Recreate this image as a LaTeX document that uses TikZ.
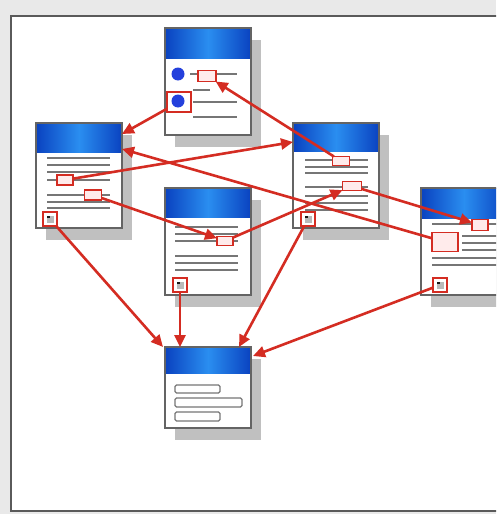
\documentclass[tikz,border=0pt]{standalone}
\usetikzlibrary{arrows.meta,calc}
\definecolor{linkred}{HTML}{D42C22}
\definecolor{hdrdark}{HTML}{0A42C0}
\definecolor{hdrlight}{HTML}{2A8EF0}
\definecolor{bggray}{HTML}{E9E9E9}
\definecolor{framegray}{HTML}{5A5A5A}
\definecolor{shadowgray}{HTML}{C0C0C0}
\definecolor{textgray}{HTML}{767676}
\definecolor{dotblue}{HTML}{2440DC}

\tikzset{
  x=1pt, y=-1pt,
  pagebody/.style={fill=white, inner sep=0pt, outer sep=0pt,
    minimum width=86pt, anchor=north west},
  pageedge/.style={draw=textgray!85!black, line width=1.1pt},
  header/.style={left color=hdrdark, right color=hdrdark, middle color=hdrlight},
  txt/.style={draw=textgray, line width=1.4pt},
  hl/.style={draw=linkred, line width=1.8pt, fill=red!8, inner sep=0pt, outer sep=0pt},
  icon/.style={draw=linkred, line width=1.8pt, fill=white, minimum size=14pt,
    inner sep=0pt, outer sep=0pt,
    path picture={
      \fill[gray!55] ([shift={(-3.5pt,-3.5pt)}]path picture bounding box.center) rectangle ++(7pt,7pt);
      \fill[gray!20!black] ([shift={(-3.5pt,1pt)}]path picture bounding box.center) rectangle ++(3pt,2.5pt);
    }},
  field/.style={draw=textgray, line width=1.1pt, fill=white, rounded corners=1.5pt},
  link/.style={draw=linkred, line width=2.6pt, -{Triangle[length=12pt,width=11pt]}},
}

% name, x, y, height, header height
\newcommand\docpage[5]{%
  \fill[shadowgray] (#2+10,#3+12) rectangle ++(86,#4);
  \node[pagebody, minimum height=#4pt] (#1) at (#2,#3) {};
  \shade[header] (#1.north west) rectangle ([yshift=-#5pt]#1.north east);
  \draw[pageedge] (#1.north west) rectangle (#1.south east);
}
\newcommand\tline[3]{\draw[txt] (#1,#3) -- (#2,#3);}

\begin{document}
\begin{tikzpicture}
  \clip (0,0) rectangle (496,514);
  \fill[bggray] (0,0) rectangle (496,514);
  \draw[framegray, line width=2.5pt, fill=white] (11,16) rectangle (540,511);

  % documents
  \docpage{p1}{165}{28}{107}{30}
  \docpage{p2}{36}{123}{105}{29}
  \docpage{p3}{293}{123}{105}{28}
  \docpage{p4}{165}{188}{107}{29}
  \docpage{p5}{421}{188}{107}{30}
  \docpage{p6}{165}{347}{81}{26}

  % top document: list with bullets
  \tline{190}{237}{74}
  \tline{193}{210}{90}
  \tline{193}{237}{102}
  \tline{193}{237}{117}
  \fill[dotblue] (178,74) circle (6.5pt);
  \node[hl, minimum width=18pt, minimum height=11pt] (b1) at (207,76) {};
  \node[hl, fill=white, minimum width=24pt, minimum height=20pt] (b1c) at (179,102) {};
  \fill[dotblue] (178,101) circle (6.5pt);

  % left document
  \foreach \yy in {158,165,172,180,195,202,208} {\tline{47}{110}{\yy}}
  \node[hl, minimum width=16pt, minimum height=10pt] (b2a) at (65,180) {};
  \node[hl, minimum width=17pt, minimum height=10pt] (b2b) at (93,195) {};
  \node[icon] (i2) at (50,219) {};

  % right document
  \foreach \yy in {160,167,173,187,196,203,210} {\tline{305}{368}{\yy}}
  \node[hl, minimum width=17pt, minimum height=9pt] (b3a) at (341,161) {};
  \node[hl, minimum width=19pt, minimum height=9pt] (b3b) at (352,186) {};
  \node[icon] (i3) at (308,219) {};

  % middle document
  \foreach \yy in {227,234,241,256,263,270} {\tline{175}{238}{\yy}}
  \node[hl, minimum width=16pt, minimum height=9pt] (b4) at (225,241) {};
  \node[icon] (i4) at (180,285) {};

  % far right document
  \tline{432}{500}{224}
  \foreach \yy in {236,243,250} {\tline{462}{500}{\yy}}
  \tline{432}{500}{258}
  \tline{432}{500}{265}
  \node[hl, minimum width=16pt, minimum height=11pt] (b5a) at (480,225) {};
  \node[hl, minimum width=26pt, minimum height=19pt] (b5b) at (445,242) {};
  \node[icon] (i5) at (440,285) {};

  % bottom document: form fields
  \draw[field] (175,385) rectangle (220,393);
  \draw[field] (175,398) rectangle (242,407);
  \draw[field] (175,412) rectangle (220,421);

  % links
  \draw[link] (b3a) -- (b1);
  \draw[link] (b1c) -- ([yshift=-11pt]p2.north east);
  \draw[link] (b2a) -- ([yshift=-19pt]p3.north west);
  \draw[link] (b5b) -- ([yshift=-26pt]p2.north east);
  \draw[link] (b2b) -- (b4);
  \draw[link] (b4) -- (b3b);
  \draw[link] (b3b) -- (b5a);
  \draw[link] (i2) -- ([xshift=-2pt]p6.north west);
  \draw[link] (i4) -- (i4 |- p6.north);
  \draw[link] (i3) -- ([xshift=-12pt]p6.north east);
  \draw[link] (i5) -- ([xshift=2pt,yshift=-9pt]p6.north east);
\end{tikzpicture}
\end{document}
